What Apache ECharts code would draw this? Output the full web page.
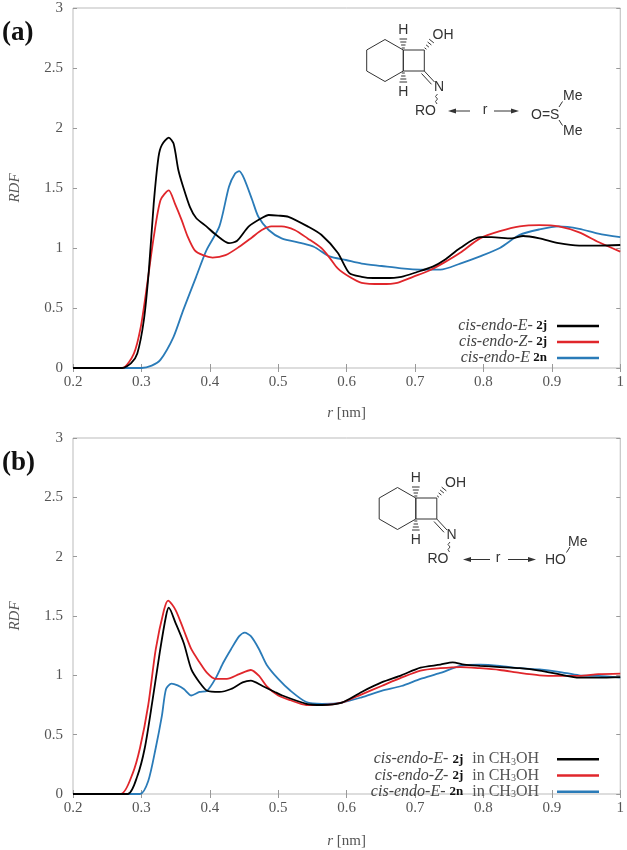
<!DOCTYPE html>
<html>
<head>
<meta charset="utf-8">
<script src="https://cdn.jsdelivr.net/npm/echarts@6/dist/echarts.min.js"></script>
<style>html,body{margin:0;padding:0;background:#fff}#c{width:627px;height:850px}</style>
</head>
<body>
<div id="c"></div>
<script>
// ---------- data ----------
const xTicksInterval = 0.1;
const yTicksInterval = 0.5;

// panel (a)
const aE2j_r = [0.2,0.272,0.285,0.294,0.3036,0.311,0.318,0.325,0.33,0.34,0.347,0.354,0.361,0.371,0.38,0.395,0.409,0.428,0.44,0.457,0.476,0.486,0.5,0.515,0.543,0.563,0.587,0.604,0.622,0.639,0.656,0.68,0.703,0.726,0.743,0.766,0.795,0.812,0.841,0.858,0.882,0.91,0.94,0.968,1.0];
const aE2j_v = [0,0,0.04,0.12,0.4,0.82,1.37,1.76,1.86,1.92,1.87,1.65,1.51,1.34,1.25,1.18,1.11,1.04,1.06,1.18,1.25,1.275,1.27,1.26,1.18,1.11,0.96,0.79,0.76,0.75,0.75,0.76,0.80,0.845,0.9,1.0,1.09,1.09,1.08,1.10,1.08,1.04,1.02,1.02,1.025];

const aZ2j_r = [0.2,0.272,0.289,0.299,0.308,0.318,0.328,0.34,0.349,0.359,0.368,0.378,0.39,0.404,0.423,0.443,0.462,0.476,0.49,0.505,0.524,0.543,0.563,0.575,0.587,0.604,0.622,0.651,0.674,0.697,0.72,0.743,0.766,0.795,0.824,0.853,0.882,0.91,0.94,0.968,1.0];
const aZ2j_v = [0,0,0.12,0.34,0.68,1.09,1.4,1.48,1.37,1.23,1.09,0.98,0.94,0.92,0.94,1.01,1.09,1.15,1.18,1.18,1.15,1.08,1.0,0.92,0.83,0.76,0.71,0.70,0.71,0.76,0.81,0.88,0.96,1.08,1.14,1.18,1.19,1.18,1.13,1.05,0.97];

const aE2n_r = [0.2,0.3,0.315,0.328,0.347,0.361,0.38,0.395,0.414,0.428,0.437,0.443,0.45,0.462,0.471,0.486,0.505,0.534,0.552,0.575,0.599,0.622,0.651,0.68,0.708,0.737,0.766,0.795,0.824,0.853,0.882,0.91,0.94,0.968,1.0];
const aE2n_v = [0,0,0.02,0.07,0.26,0.48,0.76,0.98,1.18,1.51,1.62,1.64,1.58,1.40,1.26,1.15,1.08,1.04,1.01,0.93,0.9,0.87,0.85,0.83,0.82,0.82,0.87,0.93,1.0,1.11,1.155,1.18,1.16,1.12,1.09];

// panel (b)
const bE2j_r = [0.2,0.28,0.294,0.305,0.316,0.327,0.336,0.34,0.35,0.362,0.373,0.385,0.396,0.414,0.431,0.448,0.46,0.477,0.495,0.506,0.541,0.564,0.593,0.622,0.651,0.68,0.708,0.737,0.755,0.772,0.795,0.824,0.853,0.882,0.91,0.94,0.968,1.0];
const bE2j_v = [0,0,0.15,0.39,0.78,1.2,1.5,1.57,1.44,1.27,1.05,0.94,0.87,0.86,0.885,0.94,0.955,0.91,0.86,0.83,0.76,0.75,0.77,0.86,0.94,1.0,1.065,1.09,1.11,1.09,1.08,1.07,1.06,1.04,1.01,0.98,0.98,0.985];

const bZ2j_r = [0.2,0.27,0.287,0.298,0.31,0.321,0.333,0.339,0.35,0.362,0.373,0.385,0.396,0.408,0.425,0.443,0.46,0.472,0.483,0.5,0.518,0.541,0.564,0.593,0.622,0.651,0.68,0.708,0.737,0.766,0.795,0.824,0.853,0.882,0.91,0.94,0.968,1.0];
const bZ2j_v = [0,0,0.17,0.39,0.75,1.22,1.55,1.63,1.55,1.38,1.22,1.11,1.02,0.97,0.97,1.01,1.045,0.995,0.91,0.83,0.79,0.75,0.75,0.77,0.84,0.91,0.98,1.04,1.06,1.07,1.06,1.045,1.02,1.0,0.995,0.995,1.01,1.015];

const bE2n_r = [0.2,0.298,0.31,0.321,0.33,0.336,0.344,0.353,0.362,0.373,0.385,0.396,0.408,0.42,0.431,0.443,0.451,0.46,0.472,0.483,0.5,0.518,0.541,0.564,0.593,0.622,0.651,0.68,0.708,0.737,0.766,0.795,0.824,0.853,0.882,0.91,0.94,0.968,1.0];
const bE2n_v = [0,0,0.11,0.39,0.66,0.885,0.93,0.915,0.885,0.83,0.86,0.87,0.97,1.11,1.22,1.33,1.36,1.33,1.22,1.09,0.97,0.87,0.775,0.76,0.77,0.815,0.87,0.91,0.97,1.02,1.08,1.09,1.08,1.06,1.05,1.03,1.0,0.995,0.98];

const legendPrefixA = ['cis-endo-E-', 'cis-endo-Z-', 'cis-endo-E'];
const legendPrefixB = ['cis-endo-E-', 'cis-endo-Z-', 'cis-endo-E-'];
const compounds = ['2j', '2j', '2n'];
const seriesColors = ['#000000', '#e0262b', '#2a7bb8'];

// ---------- build ----------
const pair = (r, v) => r.map((x, i) => [x, v[i]]);
const namesA = legendPrefixA.map((p, i) => p + ' ' + compounds[i]);
const namesB = legendPrefixB.map((p, i) => p + ' ' + compounds[i] + ' in CH3OH');
const dataA = [pair(aE2j_r, aE2j_v), pair(aZ2j_r, aZ2j_v), pair(aE2n_r, aE2n_v)];
const dataB = [pair(bE2j_r, bE2j_v), pair(bZ2j_r, bZ2j_v), pair(bE2n_r, bE2n_v)];

const serif = 'Liberation Serif';
const sans = 'Liberation Sans';
const labelColor = '#555';
const frameColor = '#bbbbbb';

function xAx(grid, main, gap) {
  return {
    type: 'value', gridIndex: grid, min: 0.2, max: 1, interval: xTicksInterval,
    position: main ? 'bottom' : 'top',
    axisLine: { show: false }, splitLine: { show: false },
    axisTick: { show: true, inside: true, length: 4, lineStyle: { color: '#999' } },
    axisLabel: { show: main, fontFamily: serif, fontSize: 15, color: labelColor, margin: 7 },
    name: main ? '{i|r} [nm]' : '', nameLocation: 'middle', nameGap: gap,
    nameTextStyle: { fontFamily: serif, fontSize: 15, color: labelColor,
      rich: { i: { fontFamily: serif, fontStyle: 'italic', fontSize: 15, color: labelColor } } }
  };
}
function yAx(grid, main) {
  return {
    type: 'value', gridIndex: grid, min: 0, max: 3, interval: yTicksInterval,
    position: main ? 'left' : 'right',
    axisLine: { show: false }, splitLine: { show: false },
    axisTick: { show: true, inside: true, length: 4, lineStyle: { color: '#999' } },
    axisLabel: { show: main, fontFamily: serif, fontSize: 15, color: labelColor, margin: 10 },
    name: main ? 'RDF' : '', nameLocation: 'middle', nameGap: 50,
    nameTextStyle: { fontFamily: serif, fontStyle: 'italic', fontSize: 15, color: labelColor }
  };
}

const series = [];
namesA.forEach((n, i) => series.push({
  name: n, type: 'line', xAxisIndex: 0, yAxisIndex: 0, data: dataA[i],
  showSymbol: false, smooth: 0.25, color: seriesColors[i], lineStyle: { width: 1.8 }, z: 3 - i
}));
namesB.forEach((n, i) => series.push({
  name: n, type: 'line', xAxisIndex: 2, yAxisIndex: 2, data: dataB[i],
  showSymbol: false, smooth: 0.25, color: seriesColors[i], lineStyle: { width: 1.8 }, z: 3 - i
}));

function richLeg(lh) {
  return {
    i: { fontFamily: serif, fontStyle: 'italic', fontSize: 16, color: '#444', lineHeight: lh },
    b: { fontFamily: serif, fontWeight: 'bold', fontSize: 13, color: '#111', lineHeight: lh, padding: [0, 5, 0, 0] },
    n: { fontFamily: serif, fontSize: 16, color: '#555', lineHeight: lh },
    s: { fontFamily: serif, fontSize: 10, color: '#555', lineHeight: 10, verticalAlign: 'bottom', padding: [6, 0, 0, 0] },
    e: { fontFamily: serif, fontSize: 16, color: '#555', lineHeight: lh, padding: [0, 13, 0, 0] }
  };
}

function legendFmtA(name) {
  const i = namesA.indexOf(name);
  return '{i|' + legendPrefixA[i] + '} {b|' + compounds[i] + '}';
}
function legendFmtB(name) {
  const i = namesB.indexOf(name);
  return '{i|' + legendPrefixB[i] + ' }{b|' + compounds[i] + '}{n| in CH}{s|3}{e|OH}';
}

// ---------- molecule drawing (annotation) ----------
const ink = '#333';
function line(x1, y1, x2, y2, w) {
  return { type: 'line', silent: true, shape: { x1, y1, x2, y2 }, style: { stroke: ink, lineWidth: w || 1 } };
}
function txt(x, y, s, align, size) {
  return { type: 'text', silent: true, x, y, style: { text: s, fill: ink, font: (size || 14) + 'px ' + sans, align: align || 'center', verticalAlign: 'middle' } };
}
function arrowHead(x, y, dir) {
  return { type: 'polygon', silent: true, shape: { points: [[x, y], [x - dir * 8, y - 2.5], [x - dir * 8, y + 2.5]] }, style: { fill: ink } };
}
function core(dx, dy) {
  const P = (x, y) => [x + dx, y + dy];
  const els = [];
  els.push({ type: 'polygon', silent: true, shape: { points: [P(385,39.5), P(403.3,50), P(403.3,71), P(385,81.5), P(366.7,71), P(366.7,50)] }, style: { fill: 'none', stroke: ink, lineWidth: 1 } });
  els.push({ type: 'polygon', silent: true, shape: { points: [P(403.3,50), P(424.3,50), P(424.3,71), P(403.3,71)] }, style: { fill: 'none', stroke: ink, lineWidth: 1 } });
  // hashed H bonds
  [[48,1.5],[45,2.2],[42,3],[39,3.8]].forEach(([y, w]) => { const a = P(403.3 - w, y), b = P(403.3 + w, y); els.push(line(a[0], a[1], b[0], b[1], 1)); });
  [[73,1.5],[76,2.2],[79,3],[82,3.8]].forEach(([y, w]) => { const a = P(403.3 - w, y), b = P(403.3 + w, y); els.push(line(a[0], a[1], b[0], b[1], 1)); });
  els.push(txt(403.3 + dx, 30 + dy, 'H'));
  els.push(txt(403.3 + dx, 92 + dy, 'H'));
  // hashed OH bond
  [[0.15,1.2],[0.4,1.8],[0.65,2.4],[0.9,3]].forEach(([t, w]) => {
    const cx = 424.3 + t * 8 + dx, cy = 50 - t * 10 + dy;
    els.push(line(cx - w * 0.78, cy - w * 0.62, cx + w * 0.78, cy + w * 0.62, 1));
  });
  els.push(txt(432.5 + dx, 35 + dy, 'OH', 'left'));
  // C=N
  els.push(line(424.3 + dx, 71 + dy, 434.5 + dx, 82 + dy, 1));
  els.push(line(421.5 + dx, 73.5 + dy, 431.5 + dx, 84.3 + dy, 1));
  els.push(txt(439 + dx, 87 + dy, 'N'));
  // wavy N-O bond
  els.push({ type: 'polyline', silent: true, shape: { points: [P(437.5,94), P(435.5,96.5), P(437.5,99), P(435.5,101.5), P(437,104)] }, style: { stroke: ink, lineWidth: 0.9, fill: 'none' } });
  els.push(txt(436 + dx, 111 + dy, 'RO', 'right'));
  return els;
}

const graphics = [
  { type: 'text', silent: true, x: 2, y: 33, style: { text: '(a)', font: 'bold 27px ' + serif, fill: '#111', verticalAlign: 'middle' } },
  { type: 'text', silent: true, x: 2, y: 463, style: { text: '(b)', font: 'bold 27px ' + serif, fill: '#111', verticalAlign: 'middle' } }
];
// top molecule + DMSO
graphics.push(...core(0, 0));
graphics.push(line(451, 111, 470, 111, 1), arrowHead(448, 111, -1));
graphics.push(txt(485, 110, 'r'));
graphics.push(line(494, 111, 511, 111, 1), arrowHead(519, 111, 1));
graphics.push(txt(531, 115, 'O=S', 'left'));
graphics.push(line(559, 107, 562.5, 101.5, 1), line(559, 120, 562.5, 125.5, 1));
graphics.push(txt(563, 96, 'Me', 'left'), txt(563, 131, 'Me', 'left'));
// bottom molecule + methanol
graphics.push(...core(12.5, 448));
graphics.push(line(466, 559.5, 490, 559.5, 1), arrowHead(463, 559.5, -1));
graphics.push(txt(498, 558.5, 'r'));
graphics.push(line(508, 559.5, 528, 559.5, 1), arrowHead(536, 559.5, 1));
graphics.push(txt(545, 560, 'HO', 'left'));
graphics.push(line(566.5, 552.5, 570, 547, 1));
graphics.push(txt(568, 542.5, 'Me', 'left'));

const option = {
  animation: false,
  backgroundColor: '#fff',
  grid: [
    { left: 68, top: 8, width: 556, height: 360, show: true, borderColor: frameColor, borderWidth: 1 },
    { left: 68, top: 438, width: 556, height: 362, show: true, borderColor: frameColor, borderWidth: 1 }
  ],
  xAxis: [xAx(0, true, 38), xAx(0, false, 0), xAx(1, true, 40), xAx(1, false, 0)],
  yAxis: [yAx(0, true), yAx(0, false), yAx(1, true), yAx(1, false)],
  legend: [
    { data: namesA, orient: 'vertical', right: 23, top: 313, align: 'right', itemGap: 0,
      icon: 'rect', itemWidth: 42, itemHeight: 2.5, formatter: legendFmtA, textStyle: { rich: richLeg(16) }, selectedMode: false },
    { data: namesB, orient: 'vertical', right: 23, top: 746, align: 'right', itemGap: 0,
      icon: 'rect', itemWidth: 42, itemHeight: 2.5, formatter: legendFmtB, textStyle: { rich: richLeg(15.5) }, selectedMode: false }
  ],
  graphic: graphics,
  series
};

const chart = echarts.init(document.getElementById('c'), null, { renderer: 'canvas' });
chart.setOption(option);
</script>
</body>
</html>
